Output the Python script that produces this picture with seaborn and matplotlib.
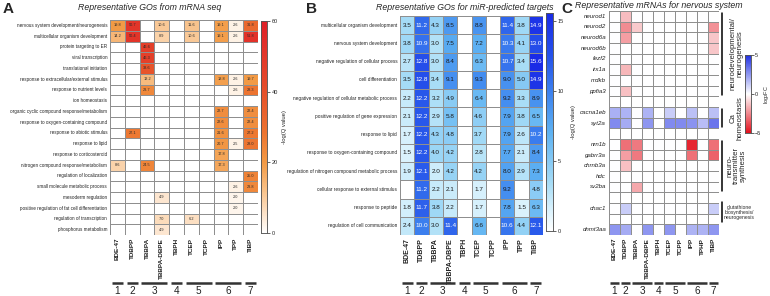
import numpy as np
import pandas as pd
import seaborn as sns
import matplotlib.pyplot as plt
import matplotlib.transforms as mtransforms
from matplotlib.colors import LinearSegmentedColormap

sns.set_theme(style="white")
plt.rcParams['font.family'] = ['Liberation Sans', 'DejaVu Sans']

# ---------------- data ----------------
chem_AB = ["BDE-47", "TDBPP", "TBBPA", "TBBPA-DBPE", "TBPH", "TCEP", "TCPP", "IPP", "TPP", "TiBP"]
chem_C = ["BDE-47", "TDBPP", "TBBPA", "TBBPA-DBPE", "TBPH", "TCEP", "TCPP", "IPP", "TPHP", "TiBP"]
groups = [(0, 0, "1"), (1, 1, "2"), (2, 3, "3"), (4, 4, "4"), (5, 6, "5"), (7, 8, "6"), (9, 9, "7")]

go_A = ["nervous system development/neurogenesis", "multicellular organism development",
        "protein targeting to ER", "viral transcription", "translational initiation",
        "response to extracellular/external stimulus", "response to nutrient levels",
        "ion homeostasis", "organic cyclic compound response/metabolism",
        "response to oxygen-containing compound", "response to abiotic stimulus",
        "response to lipid", "response to corticosteroid", "nitrogen compound response/metabolism",
        "regulation of localization", "small molecule metabolic process", "mesoderm regulation",
        "positive regulation of fat cell differentiation", "regulation of transcription",
        "phosphorus metabolism"]
N = None
vals_A = [
    [19.8, 50.7, N, 10.6, N, 11.6, N, 19.1, 2.6, 31.8],
    [14.2, 50.4, N, 8.9, N, 10.6, N, 19.1, 2.6, 51.8],
    [N, N, 46.6, N, N, N, N, N, N, N],
    [N, N, 46.3, N, N, N, N, N, N, N],
    [N, N, 38.6, N, N, N, N, N, N, N],
    [N, N, 13.2, N, N, N, N, 18.8, 2.6, 19.7],
    [N, N, 23.7, N, N, N, N, N, 2.6, 28.3],
    [N, N, N, N, N, N, N, N, N, N],
    [N, N, N, N, N, N, N, 22.7, N, 22.4],
    [N, N, N, N, N, N, N, 22.6, N, 22.4],
    [N, 27.1, N, N, N, N, N, 21.6, N, 27.2],
    [N, N, N, N, N, N, N, 20.7, 2.5, 28.0],
    [N, N, N, N, N, N, N, 17.8, N, N],
    [8.6, N, 24.5, N, N, N, N, 17.3, N, N],
    [N, N, N, N, N, N, N, N, N, 25.0],
    [N, N, N, N, N, N, N, N, 2.6, 23.8],
    [N, N, N, 4.9, N, N, N, N, 2.0, N],
    [N, N, N, N, N, N, N, N, 2.0, N],
    [N, N, N, 7.0, N, 6.2, N, N, N, N],
    [N, N, N, 4.9, N, N, N, N, N, N],
]

go_B = ["multicellular organism development", "nervous system development",
        "negative regulation of cellular process", "cell differentiation",
        "negative regulation of cellular metabolic process", "positive regulation of gene expression",
        "response to lipid", "response to oxygen-containing compound",
        "regulation of nitrogen compound metabolic process", "cellular response to external stimulus",
        "response to peptide", "regulation of cell communication"]
vals_B = [
    [3.5, 11.2, 4.3, 8.5, N, 8.8, N, 11.4, 3.8, 14.9],
    [3.8, 10.9, 3.0, 7.5, N, 7.2, N, 10.3, 4.1, 13.0],
    [2.7, 12.8, 3.0, 8.4, N, 6.3, N, 10.7, 3.4, 15.6],
    [3.5, 12.8, 3.4, 9.1, N, 9.3, N, 9.0, 5.0, 14.9],
    [2.2, 12.2, 3.2, 4.9, N, 6.4, N, 9.2, 3.3, 8.9],
    [2.1, 12.2, 2.9, 5.8, N, 4.6, N, 7.9, 3.8, 6.5],
    [1.7, 12.2, 4.3, 4.8, N, 3.7, N, 7.9, 2.6, 10.2],
    [1.5, 12.2, 4.0, 4.2, N, 2.8, N, 7.7, 2.1, 8.4],
    [1.9, 12.1, 2.0, 4.2, N, 4.2, N, 8.0, 2.9, 7.3],
    [N, 11.2, 2.2, 2.1, N, 1.7, N, 9.2, N, 4.8],
    [1.8, 11.7, 3.8, 2.2, N, 1.7, N, 7.8, 1.5, 6.3],
    [2.4, 10.0, 3.0, 11.4, N, 6.6, N, 10.6, 4.4, 12.1],
]

genes_C = ["neurod1", "neurod2", "neurod6a", "neurod6b", "fezf2", "irx1a", "mdkb", "ppfia3", "",
           "cacna1eb", "syt2a", "",
           "nrn1b", "gabrr3a", "chrnb3a", "hdc", "sv2ba", "",
           "chac1", "",
           "dnmt3aa"]
gap = None
vals_C = [
    [0, -1.4, 0, 0, 0, 0, 0, 0, 0, 0],
    [0, -2.4, -1.1, 0, 0, 0, 0, 0, 0, -2.3],
    [0, -2.0, 0, 0, 0, 0, 0, 0, 0, -1.2],
    [0, 0, 0, 0, 0, 0, 0, 0, 0, -1.2],
    [0, 0, 0, 0, 0, 0, 0, 0, 0, 0],
    [0, -1.5, 0, 0, 0, 0, 0, 0, 0, 0],
    [0, 0, 0, 0, 0, 0, 0, 0, 0, 0],
    [0, -1.3, 0, 0, 0, 0, 0, 0, 0, 0],
    gap,
    [1.9, 1.8, 0, 1.8, 0, 1.2, 0, 1.5, 0, 1.5],
    [2.8, 2.0, 0, 2.5, 0, 2.8, 2.8, 2.6, 1.6, 3.3],
    gap,
    [0, -3.0, -2.8, 0, 0, 0, 0, -4.5, 0, -3.0],
    [0, -2.0, -2.8, 0, 0, 0, 0, -3.0, 0, -3.3],
    [0, -1.3, 0, 0, 0, 0, 0, 0, 0, 0],
    [0, 0, 0, 0, 0, 0, 0, 0, 0, 0],
    [0, 0, -1.8, 0, 0, 0, 0, 0, 0, 0],
    gap,
    [0, 1.2, 0, 0, 0, 0, 0, 0, 0, 1.2],
    gap,
    [2.5, 2.0, 0, 2.5, 0, 2.5, 0, 1.8, 1.8, 2.5],
]
brackets_C = [(0, 8, "neurodevelopmental/\nneurogenesis", 5.6),
              (9, 11, "Ca\nhomeostasis", 5.6),
              (12, 17, "neuro-\ntransmitter\nsynthesis", 5.6)]

# ---------------- figure ----------------
W, H = 770, 296
fig = plt.figure(figsize=(W / 100, H / 100), dpi=100)


def px_axes(x0, y0, x1, y1):
    return fig.add_axes([x0 / W, 1 - y1 / H, (x1 - x0) / W, (y1 - y0) / H])


cmapA = LinearSegmentedColormap.from_list("a", [(0, "#ffffff"), (0.08, "#fde6cf"), (0.2, "#f8c188"),
                                                (0.33, "#f29a45"), (0.47, "#ec7430"),
                                                (0.7, "#e54a2a"), (1, "#df1f28")])
cmapB = LinearSegmentedColormap.from_list("b", [(0, "#ffffff"), (0.1, "#d8f1fc"), (0.22, "#a6dcf6"),
                                                (0.45, "#5eb2f2"), (0.62, "#3f86ef"),
                                                (0.8, "#2653ea"), (1, "#1a2be6")])
cmapC = LinearSegmentedColormap.from_list("c", [(0, "#e3101c"), (0.5, "#ffffff"), (1, "#1f2fe2")])

grid_kw = dict(linewidths=0.5, linecolor="#8f8f8f")


def fmt_annot(arr):
    return np.array([["" if v is None else f"{v:.1f}" for v in row] for row in arr])


def numeric(arr):
    return np.array([[0.0 if v is None else v for v in row] for row in arr])


def style_cbar(cax, label, lx, fs=4.2):
    cax.tick_params(labelsize=4, length=2, width=0.5, pad=1.5)
    cax.set_ylabel(label, fontsize=fs, rotation=90, labelpad=lx)
    for s in cax.spines.values():
        s.set_visible(True)
        s.set_linewidth(0.5)
        s.set_color("#555555")


def group_bars(ax):
    tr = mtransforms.blended_transform_factory(ax.transData, fig.transFigure)
    for s, e, lab in groups:
        ax.plot([s + 0.12, e + 0.88], [1 - 283 / H] * 2, transform=tr, clip_on=False,
                color="#333333", lw=1.8, solid_capstyle="butt")
        ax.text((s + e + 1) / 2, 1 - 291.5 / H, lab, transform=tr, ha="center", va="center",
                fontsize=7.2, color="#222222")


# ---- Panel A ----
axA = px_axes(110, 20, 258, 235)
caxA = px_axes(261, 21, 267, 233)
dfA = pd.DataFrame(numeric(vals_A), index=go_A, columns=chem_AB)
sns.heatmap(dfA, ax=axA, cmap=cmapA, vmin=0, vmax=60, cbar_ax=caxA, annot=fmt_annot(vals_A), fmt="",
            annot_kws={"fontsize": 2.8, "color": "#2a2a2a"}, xticklabels=True, yticklabels=True, **grid_kw)
axA.set_yticklabels(go_A, rotation=0, fontsize=3.3, color="#222222")
axA.set_xticklabels(chem_AB, rotation=90, fontsize=4.6, fontweight="bold", color="#222222")
axA.tick_params(length=0, pad=2)
caxA.set_yticks([0, 20, 40, 60])
style_cbar(caxA, "-log(Q value)", 3)
group_bars(axA)
fig.text(150 / W, 1 - 8 / H, "Representative GOs from mRNA seq", fontsize=6.3, style="italic",
         ha="center", va="center")
fig.text(3 / W, 1 - 9 / H, "A", fontsize=11, fontweight="bold", ha="left", va="center")

# ---- Panel B ----
axB = px_axes(400, 16, 543, 235)
caxB = px_axes(546, 13, 553, 231)
dfB = pd.DataFrame(numeric(vals_B), index=go_B, columns=chem_AB)
sns.heatmap(dfB, ax=axB, cmap=cmapB, vmin=0, vmax=15.6, cbar_ax=caxB, annot=fmt_annot(vals_B), fmt="",
            annot_kws={"fontsize": 4.6}, xticklabels=True, yticklabels=True, **grid_kw)
for t in axB.texts:
    txt = t.get_text()
    if txt:
        t.set_color("white" if float(txt) >= 9.5 else "#1a1a1a")
axB.set_yticklabels(go_B, rotation=0, fontsize=3.4, color="#222222")
axB.set_xticklabels(chem_AB, rotation=90, fontsize=5, fontweight="bold", color="#222222")
axB.tick_params(length=0, pad=2)
caxB.set_yticks([0, 5, 10, 15])
style_cbar(caxB, "-log(Q value)", 5)
group_bars(axB)
fig.text(465 / W, 1 - 7 / H, "Representative GOs for miR-predicted targets", fontsize=6.3,
         style="italic", ha="center", va="center")
fig.text(306 / W, 1 - 9 / H, "B", fontsize=11, fontweight="bold", ha="left", va="center")

# ---- Panel C ----
axC = px_axes(609, 11, 719, 235)
caxC = px_axes(745, 55, 751, 133)
matC = np.array([[np.nan] * 10 if r is None else r for r in vals_C], dtype=float)
dfC = pd.DataFrame(matC, index=range(len(genes_C)), columns=chem_C)
sns.heatmap(dfC, ax=axC, cmap=cmapC, vmin=-5, vmax=5, cbar_ax=caxC, mask=np.isnan(matC),
            xticklabels=True, yticklabels=True, **grid_kw)
axC.set_yticks(np.arange(len(genes_C)) + 0.5)
axC.set_yticklabels(genes_C, rotation=0, fontsize=4.4, style="italic", color="#222222")
axC.set_xticklabels(chem_C, rotation=90, fontsize=4.6, fontweight="bold", color="#222222")
axC.tick_params(length=0, pad=2)
caxC.set_yticks([-5, 0, 5])
style_cbar(caxC, "log$_2$FC", 0.5, fs=4.0)
caxC.tick_params(pad=1)
group_bars(axC)
for r0, r1, lab, fs in brackets_C:
    axC.plot([10.3, 10.3], [r0 + 0.15, r1 - 0.15], color="black", lw=1.1, clip_on=False)
    axC.text(11.6, (r0 + r1) / 2, lab, rotation=90, ha="center", va="center", fontsize=fs,
             linespacing=0.95, clip_on=False)
axC.plot([10.3, 10.3], [17.9, 19.8], color="black", lw=1.1, clip_on=False)
axC.text(11.85, 18.9, "glutathione\nbiosynthesis/\nneurogenesis", ha="center", va="center",
         fontsize=3.6, linespacing=1.0, clip_on=False)
fig.text(659 / W, 1 - 6 / H, "Representative mRNAs for nervous system", fontsize=6.3,
         style="italic", ha="center", va="center")
fig.text(561 / W, 1 - 9 / H, "C", fontsize=11, fontweight="bold", ha="left", va="center")

fig.savefig("out.png", dpi=100)
